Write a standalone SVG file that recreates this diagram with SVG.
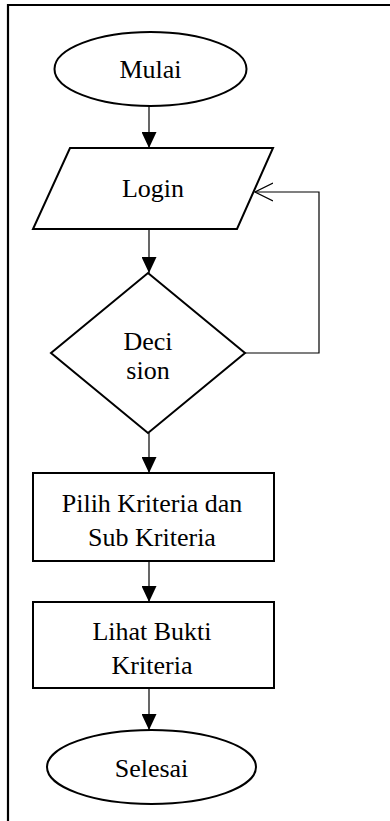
<svg xmlns="http://www.w3.org/2000/svg" width="390" height="821" viewBox="0 0 390 821">
<style>
.s{fill:#fff;stroke:#000;stroke-width:2}
.t{font-family:"Liberation Serif","Times New Roman",serif;font-size:26px;fill:#000;text-anchor:middle}
.c{fill:none;stroke:#000;stroke-width:1.2}
</style>
<defs>
<marker id="a" markerWidth="16" markerHeight="15" refX="16" refY="7.5" orient="auto" markerUnits="userSpaceOnUse">
<path d="M0,0 L16,7.5 L0,15 Z" fill="#000"/>
</marker>
<marker id="o" markerWidth="20" markerHeight="20" refX="18" refY="10" orient="auto" markerUnits="userSpaceOnUse">
<path d="M0,1 L18,10 L0,19" fill="none" stroke="#000" stroke-width="1.2"/>
</marker>
</defs>
<rect width="390" height="821" fill="#fff"/>
<path d="M8,821 V5 H390" fill="none" stroke="#000" stroke-width="2.2"/>
<g id="connectors">
<line class="c" x1="149" y1="106" x2="149" y2="148" marker-end="url(#a)"/>
<line class="c" x1="149" y1="229" x2="149" y2="273" marker-end="url(#a)"/>
<polyline class="c" points="245,353 319,353 319,192 255,192" marker-end="url(#o)"/>
<line class="c" x1="149" y1="433" x2="149" y2="473" marker-end="url(#a)"/>
<line class="c" x1="149" y1="561" x2="149" y2="602" marker-end="url(#a)"/>
<line class="c" x1="149" y1="688" x2="149" y2="730" marker-end="url(#a)"/>
</g>
<g id="mulai">
<ellipse class="s" cx="150.5" cy="69" rx="96" ry="37"/>
<text class="t" x="150.5" y="78">Mulai</text>
</g>
<g id="login">
<polygon class="s" points="70,148 273,148 237,229 33,229"/>
<text class="t" x="153" y="197">Login</text>
</g>
<g id="decision">
<polygon class="s" points="148,273 245,353 148,433 51,353"/>
<text class="t" x="148" y="350">Deci</text>
<text class="t" x="148" y="379">sion</text>
</g>
<g id="pilih">
<rect class="s" x="33" y="473" width="241" height="88"/>
<text class="t" x="152" y="512">Pilih Kriteria dan</text>
<text class="t" x="152" y="546">Sub Kriteria</text>
</g>
<g id="lihat">
<rect class="s" x="33" y="602" width="241" height="86"/>
<text class="t" x="152" y="640">Lihat Bukti</text>
<text class="t" x="152" y="674">Kriteria</text>
</g>
<g id="selesai">
<ellipse class="s" cx="151.5" cy="767" rx="104.5" ry="37"/>
<text class="t" x="151.5" y="777">Selesai</text>
</g>
</svg>
